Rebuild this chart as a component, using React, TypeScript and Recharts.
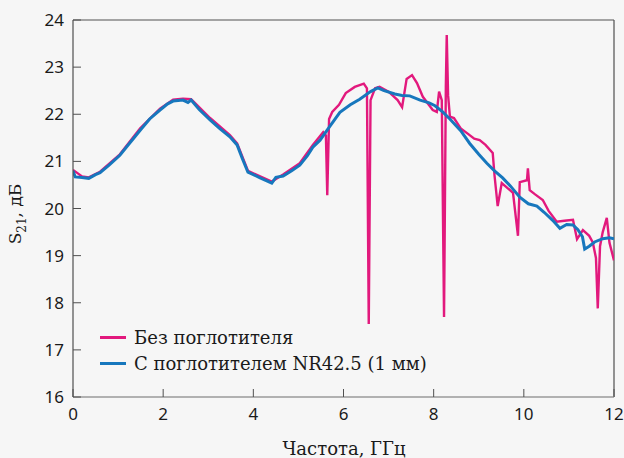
import { LineChart, Line, XAxis, YAxis, ReferenceLine } from "recharts";

document.body.style.margin = "0";

// Частота, ГГц и S21, дБ — с поглотителем NR42.5 (1 мм)
const freqAbs = [
  0, 0.05, 0.2, 0.35, 0.5, 0.6, 0.8, 1.04, 1.25, 1.49, 1.7, 1.93, 2.1, 2.22, 2.44, 2.55, 2.62, 2.8,
  3.04, 3.25, 3.48, 3.64, 3.76, 3.88, 4.0, 4.15, 4.41, 4.5, 4.66, 4.85, 5.03, 5.2, 5.32, 5.48, 5.7,
  5.92, 6.15, 6.36, 6.6, 6.76, 6.9, 7.14, 7.3, 7.47, 7.7, 7.9, 8.03, 8.2, 8.36, 8.6, 8.8, 9.0, 9.18,
  9.35, 9.53, 9.7, 9.91, 10.1, 10.29, 10.45, 10.64, 10.8, 10.95, 11.09, 11.2, 11.3, 11.35, 11.45,
  11.57, 11.75, 11.9, 12.0,
];
const s21Abs = [
  20.8, 20.67, 20.66, 20.64, 20.72, 20.76, 20.92, 21.13, 21.38, 21.66, 21.9, 22.09, 22.22, 22.28,
  22.3, 22.25, 22.3, 22.1, 21.88, 21.7, 21.52, 21.35, 21.05, 20.77, 20.72, 20.65, 20.54, 20.66,
  20.69, 20.8, 20.92, 21.12, 21.3, 21.45, 21.75, 22.04, 22.2, 22.32, 22.48, 22.56, 22.5, 22.43,
  22.4, 22.39, 22.3, 22.24, 22.18, 22.05, 21.9, 21.65, 21.38, 21.15, 20.96, 20.8, 20.65, 20.48,
  20.24, 20.1, 20.05, 19.92, 19.75, 19.58, 19.66, 19.65, 19.55, 19.4, 19.14, 19.2, 19.29, 19.36,
  19.38, 19.36,
];

// без поглотителя
const freqNoAbs = [
  0, 0.2, 0.35, 0.6, 1.04, 1.49, 1.93, 2.22, 2.44, 2.62, 3.04, 3.48, 3.64, 3.88, 4.15, 4.41, 4.66,
  5.03, 5.32, 5.55, 5.61, 5.64, 5.68, 5.75, 5.9, 6.05, 6.25, 6.45, 6.52, 6.56, 6.6, 6.7, 6.8, 7.0,
  7.2, 7.3, 7.4, 7.52, 7.63, 7.76, 7.98, 8.07, 8.12, 8.18, 8.23, 8.27, 8.29, 8.32, 8.36, 8.45, 8.6,
  8.74, 8.9, 9.02, 9.15, 9.31, 9.35, 9.42, 9.51, 9.62, 9.76, 9.87, 9.91, 10.07, 10.09, 10.13, 10.25,
  10.42, 10.55, 10.73, 10.9, 11.09, 11.18, 11.31, 11.45, 11.53, 11.6, 11.64, 11.69, 11.75, 11.84,
  11.9, 12.0,
];
const s21NoAbs = [
  20.82, 20.68, 20.66, 20.78, 21.15, 21.7, 22.12, 22.31, 22.33, 22.32, 21.92, 21.56, 21.38, 20.8,
  20.68, 20.57, 20.72, 20.96, 21.35, 21.62, 21.55, 20.28, 21.9, 22.05, 22.2, 22.45, 22.58, 22.65,
  22.55, 17.55, 22.3, 22.55, 22.58, 22.48, 22.3, 22.15, 22.75, 22.83, 22.66, 22.37, 22.09, 22.05,
  22.48, 22.3, 17.7, 22.6, 23.68, 22.4, 21.95, 21.92, 21.7, 21.6, 21.48, 21.45, 21.35, 21.18, 20.7,
  20.05, 20.54, 20.45, 20.33, 19.42, 20.56, 20.6, 20.85, 20.39, 20.3, 20.18, 19.95, 19.72, 19.74,
  19.76, 19.35, 19.54, 19.42, 19.28, 18.95, 17.88, 19.2, 19.5, 19.8, 19.27, 18.9,
];

const xTicks = [0, 2, 4, 6, 8, 10, 12];
const yTicks = [16, 17, 18, 19, 20, 21, 22, 23, 24];

const PINK = "#e2197d";
const BLUE = "#1777bd";
const FRAME = "#505050";

const absData = freqAbs.map((f, i) => ({ f, v: s21Abs[i] }));
const noAbsData = freqNoAbs.map((f, i) => ({ f, v: s21NoAbs[i] }));

const tickFont = { fontFamily: "'Noto Sans', sans-serif", fontSize: 17, fill: "#1a1a1a" };
const labelFont = "'DejaVu Serif', serif";

// тики внутрь графика
const YTick = ({ x, y, payload }: any) => (
  <g>
    <line x1={x} x2={x + 8} y1={y} y2={y} stroke={FRAME} />
    <text x={x - 9} y={y + 6} textAnchor="end" {...tickFont}>{payload.value}</text>
  </g>
);

const XTick = ({ x, y, payload }: any) => (
  <g>
    <line x1={x} x2={x} y1={y} y2={y - 8} stroke={FRAME} />
    <text x={x} y={y + 23} textAnchor="middle" {...tickFont}>{payload.value}</text>
  </g>
);

const legendItems = [
  { name: "Без поглотителя", color: PINK },
  { name: "С поглотителем NR42.5 (1 мм)", color: BLUE },
];

export default function App() {
  return (
    <div style={{ position: "relative", width: 624, height: 458, background: "#f6f6f6" }}>
      <LineChart width={624} height={458} margin={{ top: 20, right: 10, left: 0, bottom: 0 }}>
        <XAxis
          type="number"
          dataKey="f"
          domain={[0, 12]}
          ticks={xTicks}
          height={61}
          tickSize={0}
          tickMargin={0}
          tickLine={false}
          axisLine={{ stroke: "#9a9a9a", strokeWidth: 1.5 }}
          tick={<XTick />}
          allowDataOverflow
        />
        <YAxis
          type="number"
          domain={[16, 24]}
          ticks={yTicks}
          width={73}
          tickSize={0}
          tickMargin={0}
          tickLine={false}
          axisLine={{ stroke: FRAME, strokeWidth: 1.2 }}
          tick={<YTick />}
          allowDataOverflow
        />
        <ReferenceLine y={24} stroke={FRAME} strokeWidth={1.2} />
        <ReferenceLine x={12} stroke={FRAME} strokeWidth={1.2} />
        <Line data={noAbsData} dataKey="v" stroke={PINK} strokeWidth={2.4} dot={false} isAnimationActive={false} />
        <Line data={absData} dataKey="v" stroke={BLUE} strokeWidth={3} dot={false} isAnimationActive={false} />
        <text x={21} y={214} transform="rotate(-90, 21, 214)" textAnchor="middle" fontFamily={labelFont} fontSize={17} fill="#1a1a1a">
          S<tspan fontSize={12} dy={5}>21</tspan><tspan dy={-5}>, дБ</tspan>
        </text>
        <text x={344} y={455} textAnchor="middle" fontFamily={labelFont} fontSize={18} fill="#1a1a1a">
          Частота, ГГц
        </text>
      </LineChart>
      <div style={{ position: "absolute", left: 100, top: 324, fontFamily: labelFont, fontSize: 18, color: "#1a1a1a" }}>
        {legendItems.map((it) => (
          <div key={it.name} style={{ display: "flex", alignItems: "center", height: 26 }}>
            <span style={{ display: "inline-block", width: 26, height: 3, background: it.color, marginRight: 8 }} />
            {it.name}
          </div>
        ))}
      </div>
    </div>
  );
}
